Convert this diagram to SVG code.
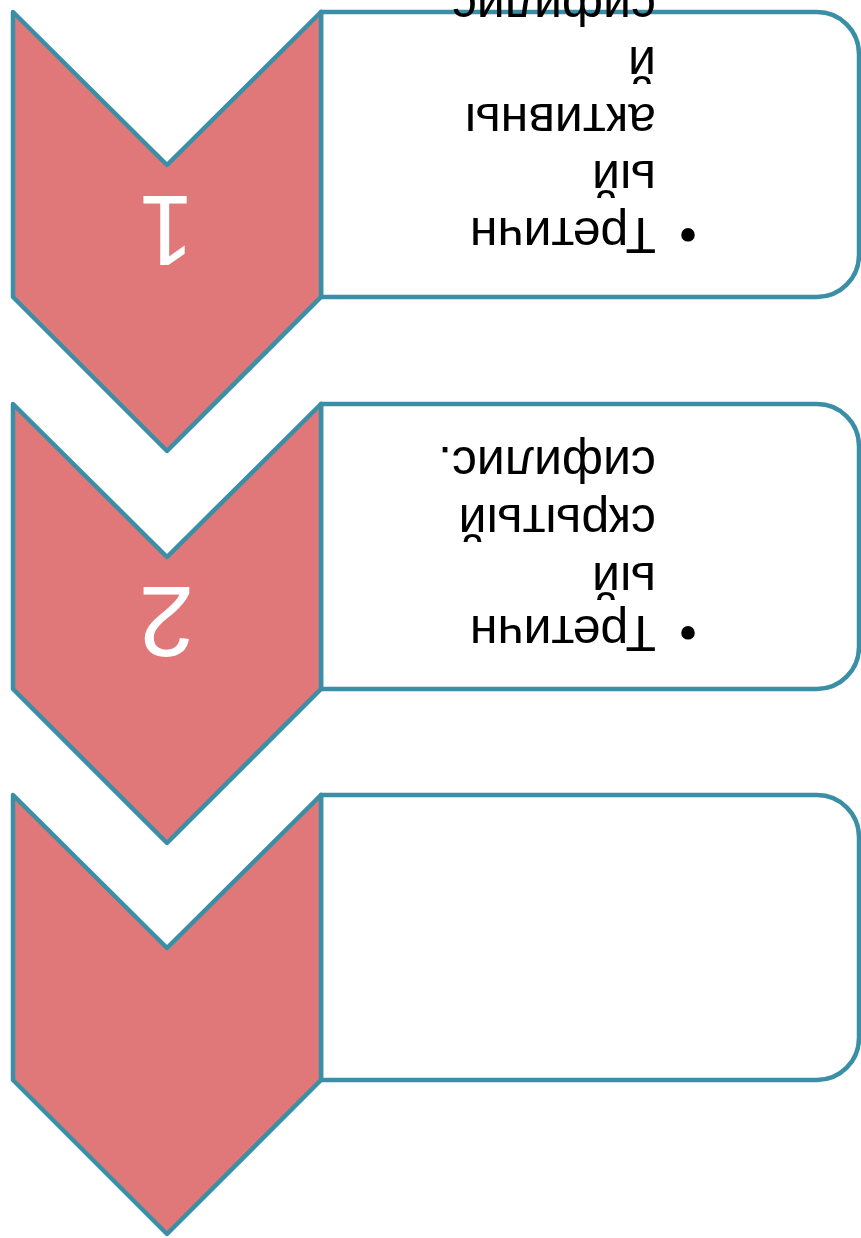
<svg xmlns="http://www.w3.org/2000/svg" width="861" height="1238" viewBox="0 0 861 1238">
<style>
.box{fill:#FFFFFF;stroke:#3A8FA6;stroke-width:4.5;stroke-linejoin:round}
.chev{fill:#E07879;stroke:#3A8FA6;stroke-width:4.5;stroke-linejoin:round}
.num{font-family:"Liberation Sans",Arial,sans-serif;font-size:100px;fill:#FFFFFF;text-anchor:middle}
.txt{font-family:"Liberation Sans",Arial,sans-serif;font-size:50px;fill:#000000}
.bul{font-family:"Liberation Sans",Arial,sans-serif;font-size:50px;fill:#000000;text-anchor:middle}
</style>
<rect x="0" y="0" width="861" height="1238" fill="#FFFFFF"/>
<g id="connectors"></g>
<g id="node1">
<path class="box" d="M321,12 H817 A42,42 0 0 1 859,54 V255 A42,42 0 0 1 817,297 H321 Z"/>
<path class="chev" d="M13,12 L167,165 L321,12 V297 L167,451 L13,297 Z"/>
<g transform="rotate(180 430.5 619)">
<text class="num" x="694.5" y="1042">1</text>
<text class="bul" x="173" y="1020">•</text>
<text class="txt" x="205" y="1020">Третичн</text>
<text class="txt" x="205" y="1077">ый</text>
<text class="txt" x="205" y="1134">активны</text>
<text class="txt" x="205" y="1191">й</text>
<text class="txt" x="205" y="1248">сифилис.</text>
</g>
</g>
<g id="node2">
<path class="box" d="M321,404 H817 A42,42 0 0 1 859,446 V647 A42,42 0 0 1 817,689 H321 Z"/>
<path class="chev" d="M13,404 L167,557 L321,404 V689 L167,843 L13,689 Z"/>
<g transform="rotate(180 430.5 619)">
<text class="num" x="694.5" y="651">2</text>
<text class="bul" x="173" y="622">•</text>
<text class="txt" x="205" y="622">Третичн</text>
<text class="txt" x="205" y="675">ый</text>
<text class="txt" x="205" y="733">скрытый</text>
<text class="txt" x="205" y="791">сифилис.</text>
</g>
</g>
<g id="node3">
<path class="box" d="M321,795 H817 A42,42 0 0 1 859,837 V1038 A42,42 0 0 1 817,1080 H321 Z"/>
<path class="chev" d="M13,795 L167,948 L321,795 V1080 L167,1234 L13,1080 Z"/>
</g>
</svg>
